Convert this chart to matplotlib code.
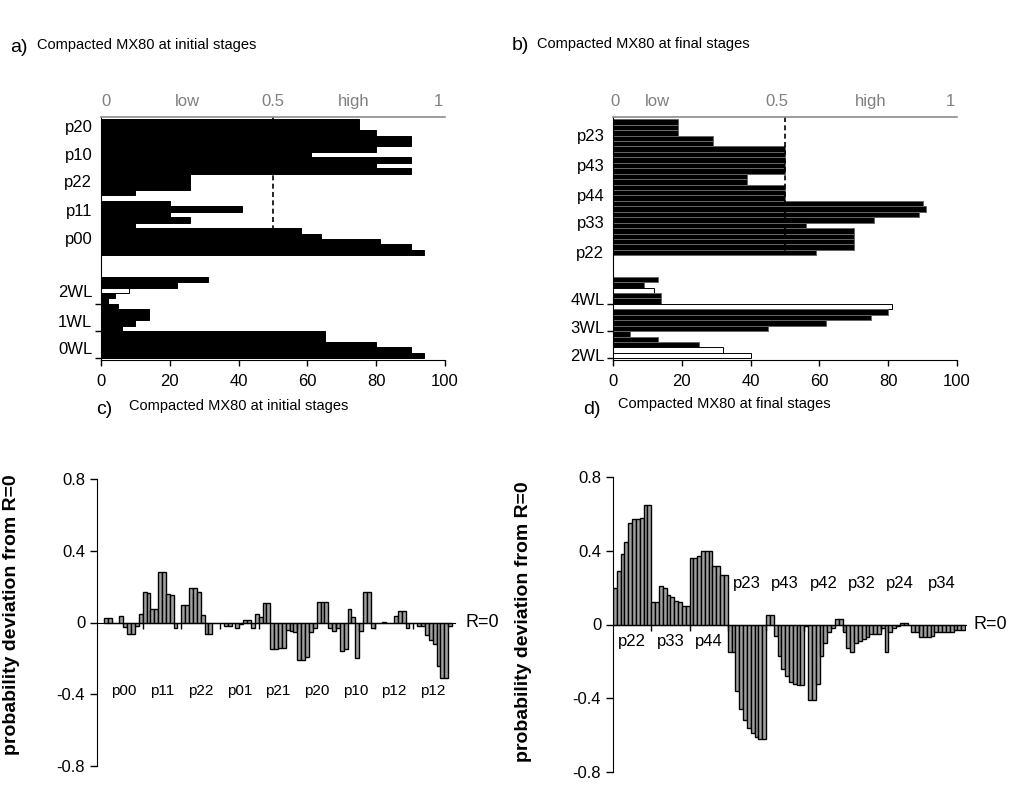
import matplotlib.pyplot as plt
from matplotlib.transforms import blended_transform_factory

plt.rcParams['font.family'] = ['Liberation Sans', 'DejaVu Sans']

W, H = 1013, 789

# probability (%) of each state, grouped by pore class; five bars per group
a_upper_names = ['p20', 'p10', 'p22', 'p11', 'p00']
a_upper_vals = [
    [75, 75, 80, 90, 90],
    [80, 61, 90, 80, 90],
    [26, 26, 26, 10, 0],
    [20, 41, 20, 26, 10],
    [58, 64, 81, 90, 94],
]
a_lower_names = ['2WL', '1WL', '0WL']
a_lower_vals = [
    [31, 22, 8, 4, 2],
    [5, 14, 14, 10, 6],
    [65, 65, 80, 90, 94],
]
a_lower_open = [
    [0, 0, 1, 0, 0],
    [0, 0, 0, 0, 0],
    [0, 0, 0, 0, 0],
]

b_upper_names = ['p23', 'p43', 'p44', 'p33', 'p22']
b_upper_vals = [
    [19, 19, 19, 29, 29],
    [50, 50, 50, 50, 50],
    [39, 39, 50, 50, 50],
    [90, 91, 89, 76, 56],
    [70, 70, 70, 70, 59],
]
b_lower_names = ['4WL', '3WL', '2WL']
b_lower_vals = [
    [13, 9, 12, 14, 14],
    [81, 80, 75, 62, 45],
    [5, 13, 25, 32, 40],
]
b_lower_open = [
    [0, 0, 1, 0, 0],
    [1, 0, 0, 0, 0],
    [0, 0, 0, 1, 1],
]

scale_words = ['0', 'low', '0.5', 'high', '1']

# deviation from R=0, ten bars per state
c_names = ['p00', 'p11', 'p22', 'p01', 'p21', 'p20', 'p10', 'p12', 'p12']
c_vals = [
    [0.025, 0.025, 0.0, 0.0, 0.037, -0.024, -0.065, -0.065, -0.02, 0.05],
    [0.17, 0.165, 0.075, 0.075, 0.28, 0.28, 0.16, 0.155, -0.03, 0.0],
    [0.10, 0.10, 0.19, 0.195, 0.17, 0.04, -0.065, -0.065, 0.0, 0.0],
    [0.0, -0.02, -0.02, 0.0, -0.03, -0.01, 0.013, 0.013, -0.03, 0.05],
    [0.03, 0.11, 0.11, -0.15, -0.15, -0.14, -0.14, -0.04, -0.05, -0.055],
    [-0.21, -0.21, -0.195, -0.055, -0.03, 0.115, 0.115, 0.115, -0.03, -0.05],
    [-0.03, -0.16, -0.15, 0.075, 0.03, -0.20, -0.05, 0.17, 0.17, -0.03],
    [0.0, 0.0, 0.005, 0.0, 0.0, 0.037, 0.065, 0.065, -0.03, 0.0],
    [0.0, -0.02, -0.02, -0.07, -0.10, -0.12, -0.24, -0.31, -0.31, -0.02],
]

d_names = ['p22', 'p33', 'p44', 'p23', 'p43', 'p42', 'p32', 'p24', 'p34']
d_vals = [
    [0.20, 0.29, 0.38, 0.45, 0.55, 0.57, 0.57, 0.58, 0.65, 0.65],
    [0.12, 0.12, 0.21, 0.20, 0.16, 0.15, 0.13, 0.12, 0.10, 0.10],
    [0.36, 0.36, 0.37, 0.40, 0.40, 0.40, 0.32, 0.32, 0.27, 0.27],
    [-0.15, -0.15, -0.36, -0.46, -0.52, -0.56, -0.59, -0.61, -0.62, -0.62],
    [0.05, 0.05, -0.06, -0.17, -0.24, -0.28, -0.31, -0.32, -0.33, -0.33],
    [-0.01, -0.41, -0.41, -0.32, -0.17, -0.10, -0.04, -0.02, 0.03, 0.03],
    [-0.04, -0.13, -0.15, -0.10, -0.09, -0.08, -0.07, -0.05, -0.05, -0.05],
    [-0.02, -0.15, -0.04, -0.02, -0.01, 0.01, 0.01, 0.0, -0.04, -0.04],
    [-0.07, -0.07, -0.07, -0.06, -0.04, -0.04, -0.04, -0.04, -0.04, -0.03, -0.03, -0.03],
]

dev_ticks = [-0.8, -0.4, 0, 0.4, 0.8]


def px_rect(left, right, top, bottom):
    return [left / W, 1 - bottom / H, (right - left) / W, (bottom - top) / H]


def prob_panel(ax, up_vals, up_names, up_label_y, lo_vals, lo_names, lo_label_y,
               lo_open, scale_x, edge):
    up0, lo0 = 0.4, 29.3
    ys, xs, faces, edges = [], [], [], []
    for gi, grp in enumerate(up_vals):
        for k, v in enumerate(grp):
            ys.append(up0 + gi * 5 + k + 0.5)
            xs.append(v)
            faces.append('black')
            edges.append(edge)
    for gi, grp in enumerate(lo_vals):
        for k, v in enumerate(grp):
            ys.append(lo0 + gi * 5 + k + 0.5)
            xs.append(v)
            hollow = lo_open[gi][k]
            faces.append('white' if hollow else 'black')
            edges.append('black' if hollow else edge)
    ax.barh(ys, xs, height=1.0, color=faces, edgecolor=edges, linewidth=0.7)

    ax.set_xlim(0, 100)
    ax.set_ylim(44.6, 0)
    ax.set_xticks(range(0, 101, 20))
    ax.tick_params(axis='x', labelsize=12, length=4, width=1, pad=6)
    ax.set_yticks([lo0 + 5, lo0 + 10, lo0 + 15])
    ax.set_yticklabels([])
    ax.tick_params(axis='y', length=4, width=1)
    ax.spines['right'].set_visible(False)
    ax.spines['top'].set_color('#8c8c8c')
    ax.spines['top'].set_linewidth(1.2)

    for name, y in zip(up_names + lo_names, up_label_y + lo_label_y):
        ax.text(-2.5, y, name, ha='right', va='center', fontsize=12)

    # 0.5 threshold between low and high probability
    ax.plot([50, 50], [0, 25.4], color='black', lw=1.2, ls=(0, (3, 2)))
    for x, word in zip(scale_x, scale_words):
        ax.text(x, -2.9, word, ha='center', va='center', fontsize=12,
                color='#808080', clip_on=False)


def dev_panel(ax, groups, names, label_y, px_per_bar, left_pad, right_pad,
              name_size, r0_x):
    vals = [v for g in groups for v in g]
    ax.bar(range(len(vals)), vals, width=1.0, color='#a0a0a0',
           edgecolor='black', linewidth=1.0)

    bounds = [-0.5]
    for g in groups:
        bounds.append(bounds[-1] + len(g))
    ax.set_xlim(-0.5 - left_pad / px_per_bar, bounds[-1] + right_pad / px_per_bar)
    ax.set_ylim(-0.8, 0.8)

    ax.spines['bottom'].set_position(('data', 0))
    ax.spines['top'].set_visible(False)
    ax.spines['right'].set_visible(False)
    ax.set_xticks(bounds[1:-1])
    ax.set_xticklabels([])
    ax.tick_params(axis='x', direction='out', length=4, width=1)
    ax.set_yticks(dev_ticks)
    ax.set_yticklabels(['-0.8', '-0.4', '0', '0.4', '0.8'])
    ax.tick_params(axis='y', labelsize=12, length=5, width=1)

    for i, name in enumerate(names):
        ax.text((bounds[i] + bounds[i + 1]) / 2, label_y[i], name,
                ha='center', va='center', fontsize=name_size)

    tr = blended_transform_factory(ax.transAxes, ax.transData)
    ax.text(r0_x, 0, 'R=0', transform=tr, ha='left', va='center', fontsize=13)


fig = plt.figure(figsize=(W / 100, H / 100), dpi=100)

ax_a = fig.add_axes(px_rect(101, 445, 117, 360))
prob_panel(ax_a, a_upper_vals, a_upper_names, [2.0, 7.0, 12.1, 17.4, 22.5],
           a_lower_vals, a_lower_names, [32.3, 37.8, 42.7], a_lower_open,
           [1.5, 25, 50, 73.5, 98], 'black')

ax_b = fig.add_axes(px_rect(613, 957, 117, 360))
prob_panel(ax_b, b_upper_vals, b_upper_names, [3.5, 9.0, 14.5, 19.6, 25.0],
           b_lower_vals, b_lower_names, [33.6, 38.9, 44.0], b_lower_open,
           [0.5, 13, 47.5, 75, 98], '#666666')

ax_c = fig.add_axes(px_rect(97, 455, 479, 766))
dev_panel(ax_c, c_vals, c_names, [-0.38] * 9, 3.87, 7, 3, 11, 1.03)

ax_d = fig.add_axes(px_rect(613, 966, 477, 772))
dev_panel(ax_d, d_vals, d_names, [-0.09] * 3 + [0.22] * 6, 3.83, 0, 1, 12, 1.02)

# panel captions
for x, y, tag, text_x, text_y, caption in [
        (10, 47, 'a)', 37, 45, 'Compacted MX80 at initial stages'),
        (512, 45, 'b)', 537, 44, 'Compacted MX80 at final stages'),
        (96, 410, 'c)', 129, 406, 'Compacted MX80 at initial stages'),
        (583, 410, 'd)', 618, 404, 'Compacted MX80 at final stages')]:
    fig.text(x / W, 1 - y / H, tag, fontsize=14, va='center', ha='left')
    fig.text(text_x / W, 1 - text_y / H, caption, fontsize=10.5, va='center', ha='left')

for x, y in ((12, 615), (523, 622)):
    fig.text(x / W, 1 - y / H, 'probability deviation from R=0', rotation=90,
             fontsize=14, fontweight='bold', ha='center', va='center')

fig.savefig('out.png', dpi=100)
